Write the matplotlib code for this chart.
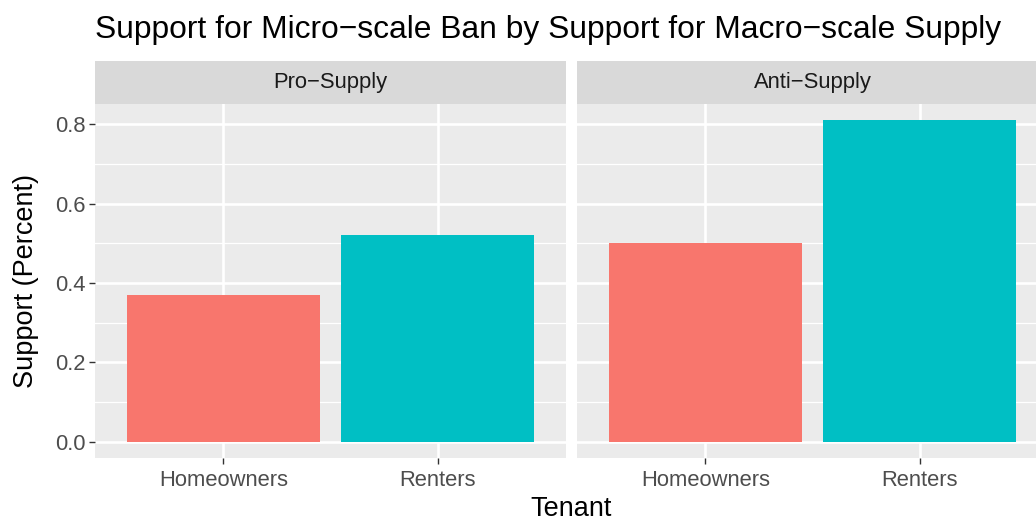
import matplotlib
matplotlib.use("Agg")
import matplotlib.pyplot as plt
from matplotlib.ticker import MultipleLocator

plt.rcParams['font.family'] = ['Liberation Sans', 'DejaVu Sans']

facets = ["Pro\u2212Supply", "Anti\u2212Supply"]
categories = ["Homeowners", "Renters"]
values = {
    "Pro\u2212Supply": [0.371, 0.520],
    "Anti\u2212Supply": [0.500, 0.810],
}
colors = ["#F8766D", "#00BFC4"]
yticks = [0.0, 0.2, 0.4, 0.6, 0.8]

W, H = 1036, 520
fig = plt.figure(figsize=(W / 100, H / 100), dpi=100)

panel_w = 471
panel_lefts = [95, 577]
panel_top, panel_bot = 104, 458
strip_top = 61

for i, f in enumerate(facets):
    left = panel_lefts[i]
    ax = fig.add_axes([left / W, (H - panel_bot) / H, panel_w / W, (panel_bot - panel_top) / H])
    ax.set_facecolor("#EBEBEB")
    for s in ax.spines.values():
        s.set_visible(False)
    x = list(range(len(categories)))
    ax.bar(x, values[f], width=0.9, color=colors, zorder=3)
    ax.set_xlim(-0.6, len(categories) - 1 + 0.6)
    ax.set_ylim(-0.0405, 0.8505)
    ax.set_yticks(yticks)
    ax.yaxis.set_minor_locator(MultipleLocator(0.1))
    ax.set_xticks(x)
    ax.set_xticklabels(categories)
    ax.grid(which="major", color="white", linewidth=1.9, zorder=1)
    ax.grid(which="minor", axis="y", color="white", linewidth=0.9, zorder=1)
    ax.tick_params(which="major", length=4, width=1.0, color="#333333",
                   labelcolor="#4D4D4D", labelsize=15.8, pad=3)
    ax.tick_params(axis="x", which="major", pad=4.5)
    ax.tick_params(which="minor", length=0)
    if i == 0:
        ax.set_yticklabels(["0.0", "0.2", "0.4", "0.6", "0.8"])
        ax.set_ylabel("Support (Percent)", fontsize=19.5, color="black", labelpad=11)
    else:
        ax.tick_params(axis="y", which="both", length=0, labelleft=False)
    # strip
    sax = fig.add_axes([left / W, (H - panel_top) / H, panel_w / W, (panel_top - strip_top) / H])
    sax.set_facecolor("#D9D9D9")
    sax.set_xticks([]); sax.set_yticks([])
    for s in sax.spines.values():
        s.set_visible(False)
    sax.text(0.5, 0.5, f, transform=sax.transAxes, ha="center", va="center",
             fontsize=15.8, color="#1A1A1A")

fig.text((95 + 577 + panel_w) / 2 / W, 1 - 516 / H, "Tenant",
         ha="center", va="baseline", fontsize=19.5, color="black")
fig.text(95 / W, 1 - 38 / H, "Support for Micro\u2212scale Ban by Support for Macro\u2212scale Supply",
         ha="left", va="baseline", fontsize=22.9, color="black")

fig.savefig("out.png", dpi=100, facecolor="white")
